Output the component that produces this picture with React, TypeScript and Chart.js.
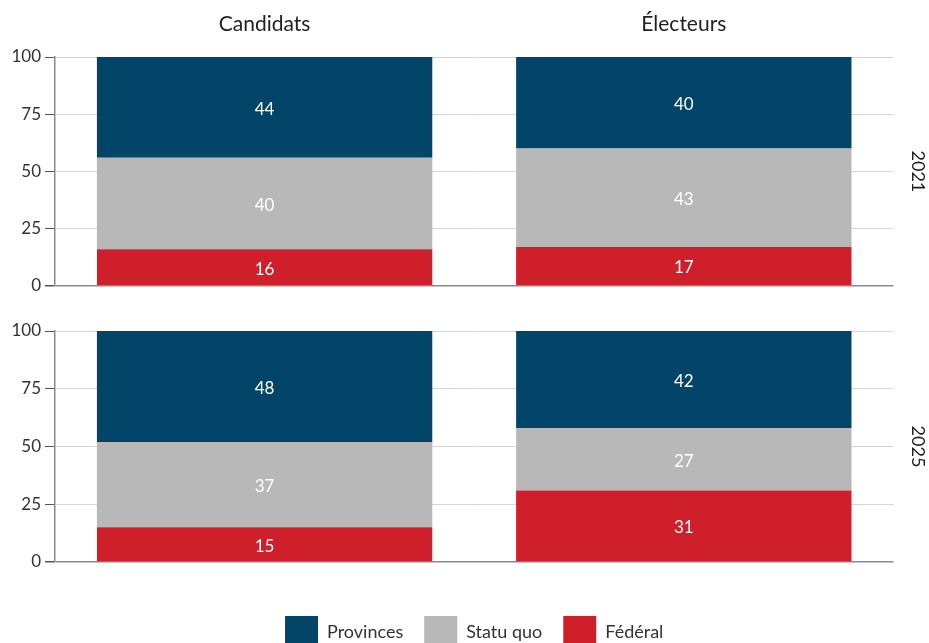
import React, { useEffect, useRef } from 'react';
import { Chart, registerables } from 'chart.js';

Chart.register(...registerables);

const categories = ['Candidats', 'Électeurs'];
const years = ['2021', '2025'];
const seriesNames = ['Provinces', 'Statu quo', 'Fédéral'];
const provinces2021 = [44, 40];
const statuQuo2021 = [40, 43];
const federal2021 = [16, 17];
const provinces2025 = [48, 42];
const statuQuo2025 = [37, 27];
const federal2025 = [15, 31];
const yTicks = [0, 25, 50, 75, 100];

const seriesColors = ['#034569', '#b8b8b8', '#cf1f2b'];
const FONT = 'Lato, "Open Sans", sans-serif';

const segmentLabels = {
  id: 'segmentLabels',
  afterDatasetsDraw(chart: any) {
    const ctx = chart.ctx;
    ctx.save();
    ctx.fillStyle = '#ffffff';
    ctx.font = `17px ${FONT}`;
    ctx.textAlign = 'center';
    ctx.textBaseline = 'middle';
    chart.data.datasets.forEach((ds: any, i: number) => {
      const meta = chart.getDatasetMeta(i);
      if (meta.hidden) return;
      meta.data.forEach((el: any, j: number) => {
        const { x, y, base } = el.getProps(['x', 'y', 'base'], true);
        ctx.fillText(String(ds.data[j]), x, (y + base) / 2 + 2);
      });
    });
    ctx.restore();
  },
};

function buildConfig(row: number): any {
  const prov = row === 0 ? provinces2021 : provinces2025;
  const sq = row === 0 ? statuQuo2021 : statuQuo2025;
  const fed = row === 0 ? federal2021 : federal2025;
  const values = [prov, sq, fed];
  // stack from bottom: Fédéral, Statu quo, Provinces
  const order = [2, 1, 0];
  const datasets = order.map((k) => ({
    label: seriesNames[k],
    data: values[k],
    backgroundColor: seriesColors[k],
    borderWidth: 0,
    stack: 'all',
    categoryPercentage: 1,
    barPercentage: 0.8,
  }));
  const isTop = row === 0;
  return {
    type: 'bar',
    data: { labels: categories, datasets },
    plugins: [segmentLabels],
    options: {
      animation: false,
      responsive: true,
      maintainAspectRatio: false,
      layout: { padding: isTop ? { top: 0, bottom: 12, left: 0, right: 0 } : { top: 31, bottom: 0, left: 0, right: 0 } },
      scales: {
        x: {
          type: 'category',
          stacked: true,
          position: isTop ? 'top' : 'bottom',
          grid: { display: false, drawTicks: false },
          border: { display: false },
          ticks: {
            display: isTop,
            padding: 20,
            color: '#222222',
            font: { family: FONT, size: 21 },
          },
          afterFit: (s: any) => {
            s.height = isTop ? 57 : 33;
          },
        },
        y: {
          stacked: true,
          min: 0,
          max: 100,
          afterBuildTicks: (s: any) => {
            s.ticks = yTicks.map((v) => ({ value: v }));
          },
          afterFit: (s: any) => {
            s.width = 55;
          },
          grid: {
            color: (c: any) => (c.tick && c.tick.value === 0 ? '#8a8a8a' : '#d6d6d6'),
            lineWidth: (c: any) => (c.tick && c.tick.value === 0 ? 1.5 : 1),
            tickColor: '#555555',
            tickLength: 10,
            drawTicks: true,
          },
          border: { display: true, color: '#8a8a8a', width: 1.5 },
          ticks: {
            padding: 4,
            color: '#333333',
            font: { family: FONT, size: 17 },
          },
        },
      },
      plugins: {
        tooltip: { enabled: false },
        title: {
          display: true,
          fullSize: false,
          text: years[row],
          position: 'right',
          color: '#222222',
          font: { family: FONT, size: 18, weight: 'normal', lineHeight: 1.2 },
          padding: { top: 0, bottom: 14 },
        },
        legend: isTop
          ? { display: false }
          : {
              display: true,
              position: 'bottom',
              reverse: true,
              fullSize: false,
              labels: {
                boxWidth: 33,
                boxHeight: 33,
                padding: 21,
                color: '#333333',
                font: { family: FONT, size: 18 },
              },
            },
      },
    },
  };
}

function Panel({ row, height }: { row: number; height: number }) {
  const ref = useRef<HTMLCanvasElement | null>(null);
  useEffect(() => {
    if (!ref.current) return;
    const chart = new Chart(ref.current, buildConfig(row));
    return () => chart.destroy();
  }, [row]);
  return (
    <div style={{ position: 'relative', width: 929, height }}>
      <canvas ref={ref} />
    </div>
  );
}

export default function App() {
  return (
    <div
      style={{
        position: 'fixed',
        left: 0,
        top: 0,
        width: 929,
        height: 643,
        overflow: 'hidden',
        background: '#ffffff',
      }}
    >
      <Panel row={0} height={300} />
      <Panel row={1} height={359} />
    </div>
  );
}
